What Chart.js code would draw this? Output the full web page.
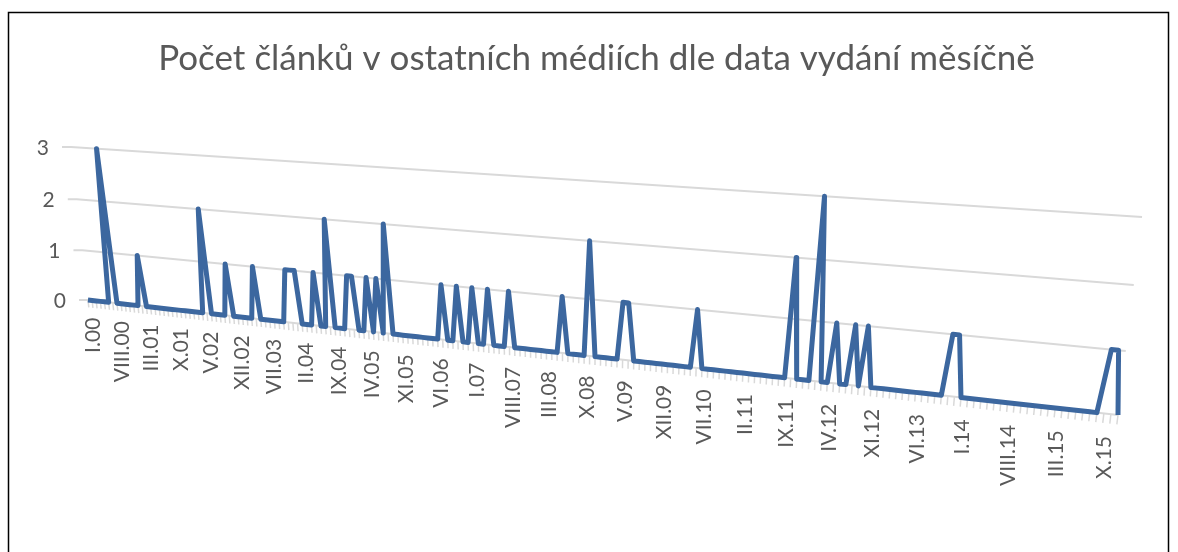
<!DOCTYPE html>
<html>
<head>
<meta charset="utf-8">
<script src="https://cdn.jsdelivr.net/npm/chart.js@4.4.1/dist/chart.umd.min.js"></script>
<style>
  html, body { margin: 0; padding: 0; background: #fff; }
  #wrap { width: 1178px; height: 552px; }
</style>
</head>
<body>
<div id="wrap"><canvas id="chart" width="1178" height="552"></canvas></div>
<script>
const chartTitle = "Počet článků v ostatních médiích dle data vydání měsíčně";
const romanMonths = ["I", "II", "III", "IV", "V", "VI", "VII", "VIII", "IX", "X", "XI", "XII"];
const years = ["00", "01", "02", "03", "04", "05", "06", "07", "08", "09", "10", "11", "12", "13", "14", "15"];
const valueTicks = [0, 1, 2, 3];
const labelStep = 7; // every 7th month gets a label

// articles per month, one row per year (2000 - 2015)
const articles = [
  0, 0, 0, 0, 0, 0, 3, 0, 0, 0, 0, 0,
  0, 1, 0, 0, 0, 0, 0, 0, 0, 0, 0, 0,
  0, 0, 0, 0, 2, 0, 0, 0, 0, 1, 0, 0,
  0, 0, 0, 1, 0, 0, 0, 0, 0, 0, 1, 1,
  1, 0, 0, 0, 1, 0, 0, 2, 0, 0, 0, 1,
  1, 0, 0, 1, 0, 1, 0, 2, 0, 0, 0, 0,
  0, 0, 0, 0, 0, 0, 1, 0, 0, 1, 0, 0,
  1, 0, 0, 1, 0, 0, 0, 1, 0, 0, 0, 0,
  0, 0, 0, 0, 0, 1, 0, 0, 0, 0, 2, 0,
  0, 0, 0, 0, 1, 1, 0, 0, 0, 0, 0, 0,
  0, 0, 0, 0, 0, 1, 0, 0, 0, 0, 0, 0,
  0, 0, 0, 0, 0, 0, 0, 0, 0, 2, 0, 0,
  0, 3, 0, 0, 1, 0, 0, 1, 0, 1, 0, 0,
  0, 0, 0, 0, 0, 0, 0, 0, 0, 0, 1, 1,
  0, 0, 0, 0, 0, 0, 0, 0, 0, 0, 0, 0,
  0, 0, 0, 0, 0, 0, 0, 0, 0, 1, 1, 0
];

const months = [];
years.forEach((y) => romanMonths.forEach((m) => months.push(m + "." + y)));

// corners of the tilted 3d wall: front-left, front-right, top-right, top-left
const wall = [[88, 300], [1118, 415], [1142, 217], [71, 147]];

const textColor = "#595959";
const gridColor = "#d9d9d9";

// unit square -> wall quad (perspective)
const makeProjection = (p0, p1, p2, p3) => {
  const dx1 = p1[0] - p2[0], dx2 = p3[0] - p2[0], dx3 = p0[0] - p1[0] + p2[0] - p3[0];
  const dy1 = p1[1] - p2[1], dy2 = p3[1] - p2[1], dy3 = p0[1] - p1[1] + p2[1] - p3[1];
  const den = dx1 * dy2 - dx2 * dy1;
  const g = (dx3 * dy2 - dx2 * dy3) / den;
  const h = (dx1 * dy3 - dx3 * dy1) / den;
  const a = p1[0] - p0[0] + g * p1[0], b = p3[0] - p0[0] + h * p3[0], c = p0[0];
  const d = p1[1] - p0[1] + g * p1[1], e = p3[1] - p0[1] + h * p3[1], f = p0[1];
  return (u, v) => {
    const w = g * u + h * v + 1;
    return { x: (a * u + b * v + c) / w, y: (d * u + e * v + f) / w };
  };
};
const project = makeProjection(wall[0], wall[1], wall[2], wall[3]);

// flat chart pixels -> 0..1 along each axis
const unitX = (chart, px) => {
  const sx = chart.scales.x;
  return (px - sx.left) / (sx.right - sx.left);
};
const unitY = (chart, py) => {
  const sy = chart.scales.y;
  return (sy.bottom - py) / (sy.bottom - sy.top);
};

const perspective = {
  id: "perspective",
  beforeDraw(chart) {
    const ctx = chart.ctx;
    ctx.save();
    ctx.fillStyle = "#fff";
    ctx.fillRect(0, 0, chart.width, chart.height);
    ctx.strokeStyle = "#000";
    ctx.lineWidth = 1.5;
    ctx.strokeRect(8.5, 12.5, 1160, 560);
    ctx.restore();
  },
  afterDatasetsUpdate(chart) {
    chart.data.datasets.forEach((ds, i) => {
      const meta = chart.getDatasetMeta(i);
      meta.data.forEach((pt) => {
        const p = project(unitX(chart, pt.x), unitY(chart, pt.y));
        pt.x = p.x;
        pt.y = p.y;
      });
      if (meta.dataset) meta.dataset._path = undefined;
    });
  },
  beforeDatasetsDraw(chart) {
    const ctx = chart.ctx;
    const sx = chart.scales.x;
    const sy = chart.scales.y;
    ctx.save();

    // gridlines on the back wall
    ctx.strokeStyle = gridColor;
    ctx.lineWidth = 2;
    valueTicks.forEach((v) => {
      const s = unitY(chart, sy.getPixelForValue(v));
      const a = project(0, s);
      const b = project(1, s);
      ctx.beginPath();
      ctx.moveTo(a.x - 9, a.y);
      ctx.lineTo(a.x, a.y);
      ctx.lineTo(b.x, b.y);
      ctx.stroke();
    });

    // month tick comb under the floor edge
    ctx.lineWidth = 1.5;
    months.forEach((m, i) => {
      const u = unitX(chart, sx.getPixelForValue(i));
      const a = project(u, 0);
      const b = project(u, -0.05);
      ctx.beginPath();
      ctx.moveTo(a.x, a.y);
      ctx.lineTo(b.x, b.y);
      ctx.stroke();
    });

    // value labels
    ctx.fillStyle = textColor;
    ctx.font = "21px Lato";
    ctx.textAlign = "right";
    ctx.textBaseline = "middle";
    valueTicks.forEach((v) => {
      const p = project(0, unitY(chart, sy.getPixelForValue(v)));
      ctx.fillText(String(v), p.x - 22, p.y + 1);
    });

    // month labels, rotated
    ctx.font = "21px Lato";
    months.forEach((m, i) => {
      if (i % labelStep !== 0) return;
      const u = unitX(chart, sx.getPixelForValue(i));
      const p = project(u, -0.12);
      ctx.save();
      ctx.translate(p.x + 3, p.y);
      ctx.rotate(-Math.PI / 2);
      ctx.fillText(m, 0, 0);
      ctx.restore();
    });

    ctx.restore();
  }
};

Chart.defaults.font.family = "Lato";

new Chart(document.getElementById("chart"), {
  type: "line",
  data: {
    labels: months,
    datasets: [
      {
        data: articles,
        borderColor: "#3c679f",
        borderWidth: 5,
        borderJoinStyle: "round",
        pointRadius: 0,
        tension: 0,
        clip: false
      },
      {
        data: articles,
        borderColor: "#5186c4",
        borderWidth: 3,
        borderJoinStyle: "round",
        pointRadius: 0,
        tension: 0,
        clip: false
      }
    ]
  },
  options: {
    responsive: false,
    animation: false,
    devicePixelRatio: 1,
    layout: { padding: { left: 15 } },
    plugins: {
      legend: { display: false },
      tooltip: { enabled: false },
      title: {
        display: true,
        text: chartTitle,
        color: textColor,
        font: { family: "Lato", size: 35, weight: "normal" },
        padding: { top: 38, bottom: 10 }
      }
    },
    scales: {
      x: { type: "category", display: false, offset: false },
      y: { min: 0, max: 3, display: false }
    }
  },
  plugins: [perspective]
});
</script>
</body>
</html>
